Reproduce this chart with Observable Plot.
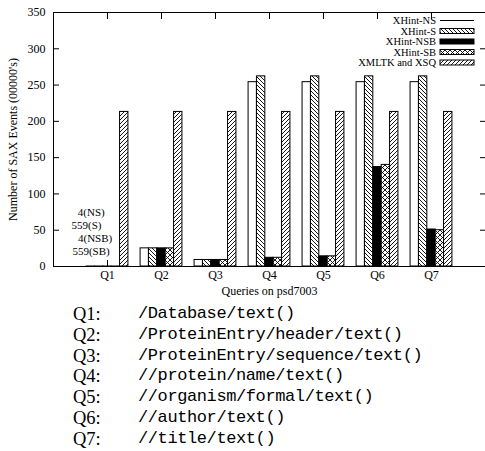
<!DOCTYPE html>
<html>
<head>
<meta charset="utf-8">
<script src="https://cdn.jsdelivr.net/npm/d3@7"></script>
<script src="https://cdn.jsdelivr.net/npm/@observablehq/plot@0.6"></script>
<style>
  html, body { margin: 0; padding: 0; background: #fff; }
  #chart svg { display: block; }
  #queries { position: relative; width: 485px; padding-top: 2px; }
  .qline { position: relative; height: 20.8px; line-height: 20.8px; }
  .qlab { position: absolute; left: 73px; font-family: "Liberation Serif", serif; font-size: 18.5px; }
  .qpath { position: absolute; left: 138px; font-family: "Liberation Mono", monospace; font-size: 17px; letter-spacing: -0.4px; }
</style>
</head>
<body>
<div id="chart"></div>
<div id="queries"></div>
<script>
// ---- data ----
const queries = ["Q1", "Q2", "Q3", "Q4", "Q5", "Q6", "Q7"];
const seriesNames = ["XHint-NS", "XHint-S", "XHint-NSB", "XHint-SB", "XMLTK and XSQ"];
// Number of SAX events, in units of 00000's
const nsValues    = [0.00004, 25, 9, 254, 254, 254, 254];
const sValues     = [0.00559, 25, 9, 262, 262, 262, 262];
const nsbValues   = [0.00004, 25, 9, 12, 14, 137, 51];
const sbValues    = [0.00559, 25, 9, 12, 14, 140, 50];
const xmltkValues = [213, 213, 213, 213, 213, 213, 213];
const yTicks = [0, 50, 100, 150, 200, 250, 300, 350];
// Q1 annotations (raw counts), placed in data coordinates
const annoText = ["4(NS)", "559(S)", "4(NSB)", "559(SB)"];
const annoX = [0.70, 0.61, 0.77, 0.695];
const annoY = [75, 57, 39, 21];
const queryPaths = [
  "/Database/text()",
  "/ProteinEntry/header/text()",
  "/ProteinEntry/sequence/text()",
  "//protein/name/text()",
  "//organism/formal/text()",
  "//author/text()",
  "//title/text()"
];

// ---- build ----
const allValues = [nsValues, sValues, nsbValues, sbValues, xmltkValues];
const fills = ["white", "url(#hatchBack)", "black", "url(#hatchCross)", "url(#hatchFwd)"];
const barW = 0.155;
const font = "Liberation Serif, Times New Roman, serif";

function seriesRows(k) {
  return allValues[k].map((v, i) => {
    const x1 = (i + 1) + (k - 2.5) * barW;
    return {x1, x2: x1 + barW, v};
  });
}

const qIdx = queries.map((q, i) => i + 1);

const barMarks = allValues.map((_, k) =>
  Plot.rectY(seriesRows(k), {x1: "x1", x2: "x2", y1: 0, y2: "v", fill: fills[k], stroke: "black", strokeWidth: 1})
);

const plot = Plot.plot({
  width: 485,
  height: 302,
  marginTop: 12,
  marginBottom: 36,
  marginLeft: 53,
  marginRight: 0,
  style: {fontFamily: font, fontSize: "12px", background: "white", color: "black"},
  x: {type: "linear", domain: [0, 8]},
  y: {domain: [0, 350]},
  marks: [
    // inward ticks
    Plot.axisY(yTicks, {anchor: "left", tickSize: -6, text: null, label: null}),
    Plot.axisY(yTicks, {anchor: "right", tickSize: -6, text: null, label: null}),
    Plot.axisX(qIdx, {anchor: "top", tickSize: -6, text: null, label: null}),
    Plot.axisX(qIdx, {anchor: "bottom", tickSize: -6, text: null, label: null}),
    // labels
    Plot.axisY(yTicks, {anchor: "left", tickSize: 0, tickPadding: 8, fontSize: 12, label: null}),
    Plot.axisX(qIdx, {anchor: "bottom", tickSize: 0, tickPadding: 4, fontSize: 12, label: null, tickFormat: d => queries[d - 1]}),
    ...barMarks,
    Plot.text(annoText, {x: (d, i) => annoX[i], y: (d, i) => annoY[i], text: d => d, fontSize: 11, textAnchor: "middle"}),
    Plot.text(["Queries on psd7003"], {frameAnchor: "bottom", dy: 28, fontSize: 12, textAnchor: "middle"}),
    Plot.text(["Number of SAX Events (00000's)"], {frameAnchor: "left", dx: -40, rotate: -90, fontSize: 12, textAnchor: "middle"}),
    Plot.frame({stroke: "black", strokeWidth: 1})
  ]
});

// patterns
const svg = d3.select(plot);
const defs = svg.insert("defs", ":first-child");
function hatch(id, d, size) {
  const p = defs.append("pattern").attr("id", id).attr("patternUnits", "userSpaceOnUse")
    .attr("width", size).attr("height", size);
  p.append("rect").attr("width", size).attr("height", size).attr("fill", "white");
  p.append("path").attr("d", d).attr("stroke", "black").attr("stroke-width", 0.9).attr("fill", "none");
}
hatch("hatchBack", "M0,0L4,4M-1,3L1,5M3,-1L5,1", 4);
hatch("hatchFwd", "M0,4L4,0M-1,1L1,-1M3,5L5,3", 4);
hatch("hatchCross", "M0,0L5,5M-1,4L1,6M4,-1L6,1M0,5L5,0M-1,1L1,-1M4,6L6,4", 5);

// legend (inside the frame, top right)
const lg = svg.append("g").attr("font-family", font).attr("font-size", 10.5);
seriesNames.forEach((name, k) => {
  const cy = 20.5 + 10.5 * k;
  lg.append("text").attr("x", 436).attr("y", cy).attr("dy", "0.35em").attr("text-anchor", "end").text(name);
  if (k === 0) {
    lg.append("line").attr("x1", 440).attr("x2", 474).attr("y1", cy).attr("y2", cy).attr("stroke", "black");
  } else {
    lg.append("rect").attr("x", 440).attr("y", cy - 2.5).attr("width", 34).attr("height", 5)
      .attr("fill", fills[k]).attr("stroke", "black");
  }
});

document.getElementById("chart").appendChild(plot);

// query list caption
const qdiv = d3.select("#queries");
queries.forEach((q, i) => {
  const line = qdiv.append("div").attr("class", "qline");
  line.append("span").attr("class", "qlab").text(q + ":");
  line.append("span").attr("class", "qpath").text(queryPaths[i]);
});
</script>
</body>
</html>
